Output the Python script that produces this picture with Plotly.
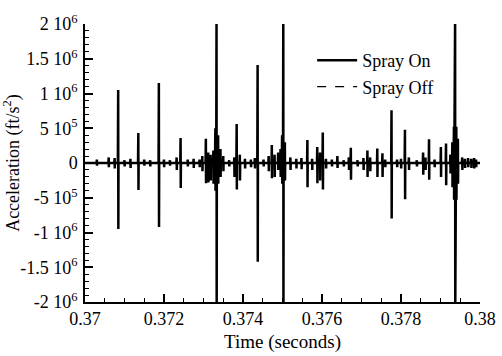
import plotly.graph_objects as go

# Spray On: spike events (time in s, positive peak, negative peak) in ft/s^2
spike_t = [0.37030, 0.37060, 0.37075, 0.37084, 0.37100, 0.37115, 0.37135, 0.37150, 0.37165, 0.37187,
           0.37200, 0.37215, 0.37232, 0.37242, 0.37260, 0.37275, 0.37290, 0.37297, 0.37306, 0.37312,
           0.37318, 0.37325, 0.37330, 0.37333, 0.37337, 0.37343, 0.37350, 0.37365, 0.37378, 0.37384,
           0.37392, 0.37405, 0.37420, 0.37430, 0.37437, 0.37452, 0.37465, 0.37473, 0.37480, 0.37489,
           0.37495, 0.37499, 0.37502, 0.37506, 0.37520, 0.37535, 0.37548, 0.37563, 0.37575, 0.37588,
           0.37595, 0.37602, 0.37610, 0.37625, 0.37639, 0.37655, 0.37668, 0.37673, 0.37690, 0.37705,
           0.37715, 0.37722, 0.37740, 0.37753, 0.37760, 0.37776, 0.37790, 0.37800, 0.37810, 0.37820,
           0.37840, 0.37856, 0.37862, 0.37871, 0.37885, 0.37901, 0.37914, 0.37925, 0.37930, 0.37934,
           0.37937, 0.37940, 0.37944, 0.37955, 0.37962, 0.37970, 0.37978, 0.37985, 0.37990]
spike_up = [0.05e6, 0.08e6, 0.07e6, 1.05e6, 0.04e6, 0.06e6, 0.43e6, 0.05e6, 0.04e6, 1.15e6,
            0.05e6, 0.04e6, 0.08e6, 0.36e6, 0.05e6, 0.06e6, 0.05e6, 0.10e6, 0.35e6, 0.15e6,
            0.12e6, 0.18e6, 0.50e6, 2.10e6, 0.40e6, 0.20e6, 0.10e6, 0.04e6, 0.08e6, 0.56e6,
            0.12e6, 0.06e6, 0.05e6, 0.07e6, 1.41e6, 0.05e6, 0.10e6, 0.26e6, 0.12e6, 0.15e6,
            0.20e6, 0.40e6, 2.10e6, 0.30e6, 0.08e6, 0.06e6, 0.07e6, 0.33e6, 0.06e6, 0.23e6,
            0.15e6, 0.44e6, 0.06e6, 0.05e6, 0.10e6, 0.04e6, 0.08e6, 0.22e6, 0.04e6, 0.07e6,
            0.18e6, 0.08e6, 0.21e6, 0.14e6, 0.05e6, 0.76e6, 0.05e6, 0.06e6, 0.48e6, 0.08e6,
            0.04e6, 0.15e6, 0.08e6, 0.34e6, 0.05e6, 0.23e6, 0.28e6, 0.12e6, 0.30e6, 0.52e6,
            2.10e6, 0.52e6, 0.35e6, 0.08e6, 0.06e6, 0.07e6, 0.06e6, 0.07e6, 0.05e6]
spike_dn = [-0.04e6, -0.06e6, -0.08e6, -0.95e6, -0.05e6, -0.07e6, -0.39e6, -0.04e6, -0.05e6, -0.92e6,
            -0.06e6, -0.04e6, -0.10e6, -0.36e6, -0.05e6, -0.07e6, -0.06e6, -0.12e6, -0.29e6, -0.28e6,
            -0.25e6, -0.30e6, -0.40e6, -2.10e6, -0.30e6, -0.20e6, -0.12e6, -0.05e6, -0.20e6, -0.38e6,
            -0.25e6, -0.08e6, -0.06e6, -0.08e6, -1.42e6, -0.05e6, -0.12e6, -0.22e6, -0.20e6, -0.10e6,
            -0.20e6, -0.30e6, -2.10e6, -0.25e6, -0.10e6, -0.08e6, -0.09e6, -0.35e6, -0.10e6, -0.29e6,
            -0.25e6, -0.38e6, -0.08e6, -0.05e6, -0.07e6, -0.05e6, -0.10e6, -0.24e6, -0.05e6, -0.10e6,
            -0.20e6, -0.12e6, -0.20e6, -0.20e6, -0.06e6, -0.80e6, -0.06e6, -0.08e6, -0.52e6, -0.10e6,
            -0.05e6, -0.17e6, -0.10e6, -0.24e6, -0.06e6, -0.20e6, -0.32e6, -0.15e6, -0.35e6, -0.53e6,
            -2.10e6, -0.53e6, -0.30e6, -0.10e6, -0.07e6, -0.06e6, -0.07e6, -0.08e6, -0.06e6]

# Spray Off: near-zero baseline samples
off_t = [0.3700, 0.3725, 0.3750, 0.3775, 0.3800]
off_v = [0.0, 0.0, 0.0, 0.0, 0.0]

y_tickvals = [2e6, 1.5e6, 1e6, 5e5, 0, -5e5, -1e6, -1.5e6, -2e6]
y_ticktext = ["2 10<sup>6</sup>", "1.5 10<sup>6</sup>", "1 10<sup>6</sup>", "5 10<sup>5</sup>", "0",
              "-5 10<sup>5</sup>", "-1 10<sup>6</sup>", "-1.5 10<sup>6</sup>", "-2 10<sup>6</sup>"]

# Build the Spray On trace from the spike events
w = 0.000008
on_x, on_y = [0.3700], [0.0]
for t, u, d in zip(spike_t, spike_up, spike_dn):
    on_x += [t - w, t, t + w / 2, t + w]
    on_y += [0.0, u, d, 0.0]
on_x.append(0.3800)
on_y.append(0.0)

FONT = "Liberation Serif"

fig = go.Figure()
fig.add_trace(go.Scatter(x=on_x, y=on_y, mode="lines", name="Spray On",
                         line=dict(color="black", width=2.5)))
fig.add_trace(go.Scatter(x=off_t, y=off_v, mode="lines", name="Spray Off",
                         line=dict(color="black", width=1.2, dash="dash")))

fig.update_layout(
    width=502, height=356,
    margin=dict(l=85, r=22, t=24, b=54),
    paper_bgcolor="white", plot_bgcolor="white",
    font=dict(family=FONT, size=18, color="black"),
    showlegend=True,
    legend=dict(x=0.575, y=0.935, xanchor="left", yanchor="top",
                bgcolor="rgba(0,0,0,0)", font=dict(family=FONT, size=18),
                tracegroupgap=0, itemwidth=40),
)
fig.update_xaxes(
    range=[0.37, 0.38], tickmode="linear", tick0=0.37, dtick=0.002,
    ticks="inside", ticklen=8, tickwidth=1.5, tickcolor="black",
    minor=dict(tickmode="linear", tick0=0.37, dtick=0.0005, ticks="inside", ticklen=4,
               tickwidth=1.2, tickcolor="black"),
    showline=True, linecolor="black", linewidth=1.5, mirror=False,
    showgrid=False, zeroline=False, automargin=False,
    tickfont=dict(family=FONT, size=18),
    title=dict(text="Time (seconds)", font=dict(family=FONT, size=19), standoff=6),
)
fig.update_yaxes(
    range=[-2e6, 2e6], tickmode="array", tickvals=y_tickvals, ticktext=y_ticktext,
    ticks="inside", ticklen=8, tickwidth=1.5, tickcolor="black",
    minor=dict(tickmode="linear", tick0=0, dtick=1e5, ticks="inside", ticklen=4,
               tickwidth=1.2, tickcolor="black"),
    showline=True, linecolor="black", linewidth=1.5, mirror=False,
    showgrid=False, zeroline=False, automargin=False,
    tickfont=dict(family=FONT, size=18),
    ticklabelstandoff=2,
    title=dict(text="Acceleration (ft/s<sup>2</sup>)", font=dict(family=FONT, size=18), standoff=5),
)

fig.write_html("out.html")
